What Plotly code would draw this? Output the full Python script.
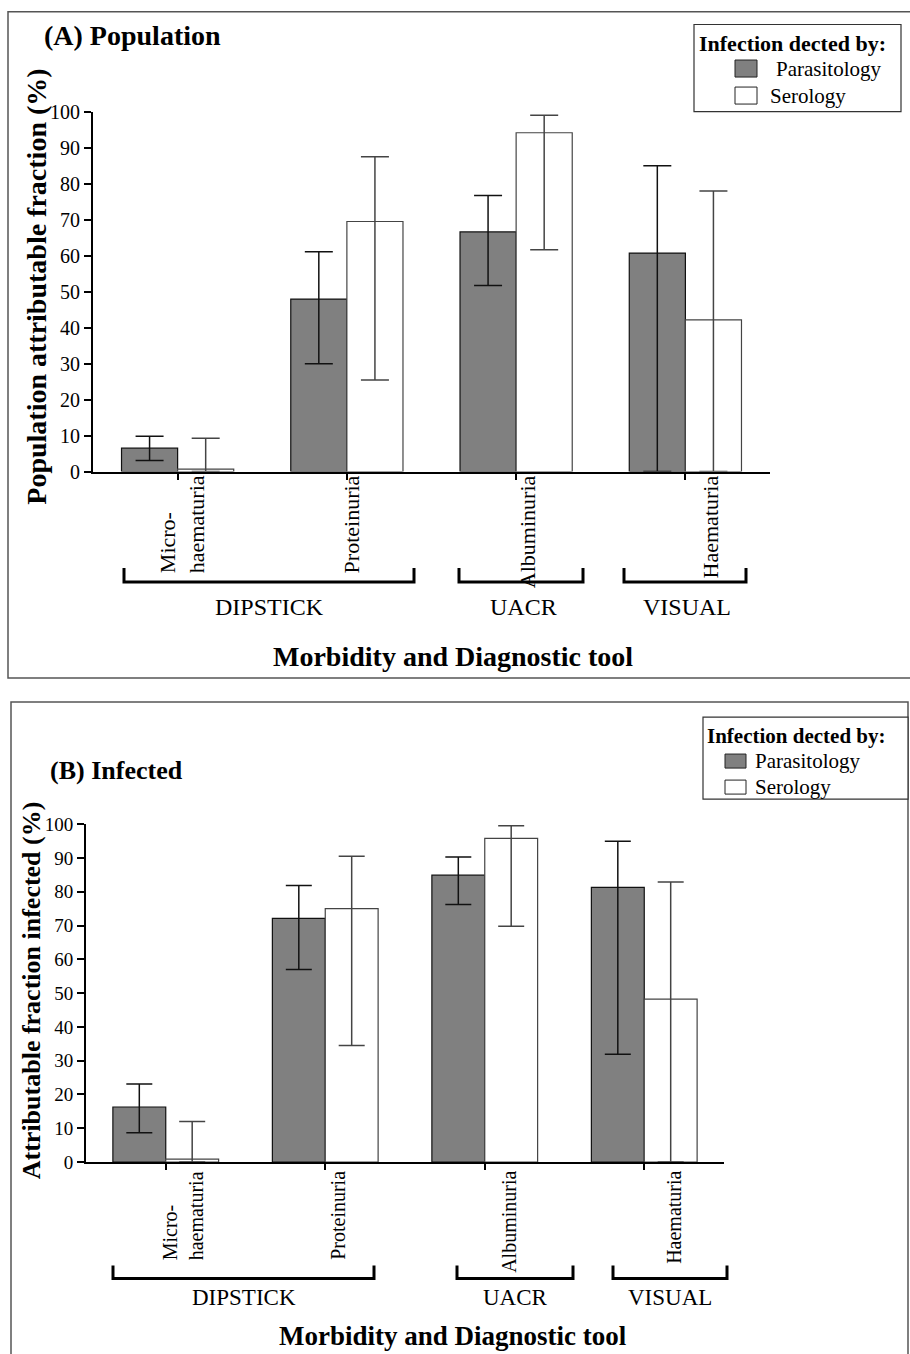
import plotly.graph_objects as go

# ---------------- data ----------------
categories = ["Micro-<br>haematuria", "Proteinuria", "Albuminuria", "Haematuria"]
series_names = ["Parasitology", "Serology"]
group_names = ["DIPSTICK", "UACR", "VISUAL"]
y_tick_values = [0, 10, 20, 30, 40, 50, 60, 70, 80, 90, 100]

# (A) Population attributable fraction (%)
popA_para = [6.5, 48.0, 66.7, 60.8]
popA_para_lo = [3.1, 30.0, 51.8, 0.0]
popA_para_hi = [9.8, 61.2, 76.8, 85.1]
popA_sero = [0.7, 69.6, 94.3, 42.2]
popA_sero_lo = [0.0, 25.5, 61.7, 0.0]
popA_sero_hi = [9.3, 87.6, 99.2, 78.1]

# (B) Attributable fraction infected (%)
infB_para = [16.3, 72.1, 84.9, 81.3]
infB_para_lo = [8.7, 57.0, 76.2, 31.9]
infB_para_hi = [23.1, 81.8, 90.3, 94.9]
infB_sero = [0.9, 75.0, 95.8, 48.2]
infB_sero_lo = [0.0, 34.5, 69.8, 0.0]
infB_sero_hi = [12.0, 90.5, 99.5, 82.9]

# ---------------- layout helpers ----------------
W, H = 910, 1354
FONT = "Liberation Serif, Times New Roman, serif"
VS = 0.983  # vertical calibration of the rendered page


def X(px):
    return px / W


def Y(py):
    p = 677 + (py - 677) / VS
    return min(max(1 - p / H, -0.05), 0.9995)


PARA_FILL = "#808080"
SERO_FILL = "#ffffff"


def bar_trace(vals, lo, hi, name, fill, line_col, err_col, xa, ya, capw):
    return go.Bar(
        x=categories, y=vals, name=name,
        marker=dict(color=fill, line=dict(color=line_col, width=1.2)),
        error_y=dict(type="data", symmetric=False,
                     array=[h - v for h, v in zip(hi, vals)],
                     arrayminus=[v - l for v, l in zip(vals, lo)],
                     color=err_col, thickness=1.5, width=capw),
        xaxis=xa, yaxis=ya, showlegend=False,
    )


fig = go.Figure()
fig.add_trace(bar_trace(popA_para, popA_para_lo, popA_para_hi, series_names[0],
                        PARA_FILL, "#111111", "#111111", "x", "y", 14))
fig.add_trace(bar_trace(popA_sero, popA_sero_lo, popA_sero_hi, series_names[1],
                        SERO_FILL, "#444444", "#444444", "x", "y", 14))
fig.add_trace(bar_trace(infB_para, infB_para_lo, infB_para_hi, series_names[0],
                        PARA_FILL, "#111111", "#111111", "x2", "y2", 13))
fig.add_trace(bar_trace(infB_sero, infB_sero_lo, infB_sero_hi, series_names[1],
                        SERO_FILL, "#444444", "#444444", "x2", "y2", 13))

axis_common = dict(showline=True, linecolor="black", linewidth=2,
                   ticks="outside", tickcolor="black", tickwidth=1.5,
                   showgrid=False, zeroline=False)

fig.update_layout(
    width=W, height=H, margin=dict(l=0, r=0, t=0, b=0),
    paper_bgcolor="white", plot_bgcolor="white",
    barmode="group", bargap=0.337, bargroupgap=0,
    font=dict(family=FONT, color="black"),
    xaxis=dict(domain=[X(93), X(770)], anchor="y", showticklabels=False,
               ticklen=6, range=[-0.5, 3.5], **axis_common),
    yaxis=dict(domain=[Y(471.7), Y(112.7)], anchor="x", range=[0, 100],
               tickvals=y_tick_values, ticklen=7,
               tickfont=dict(family=FONT, size=20, color="black"), **axis_common),
    xaxis2=dict(domain=[X(86), X(724)], anchor="y2", showticklabels=False,
                ticklen=6, range=[-0.5, 3.5], **axis_common),
    yaxis2=dict(domain=[Y(1161.7), Y(824)], anchor="x2", range=[0, 100],
                tickvals=y_tick_values, ticklen=7,
                tickfont=dict(family=FONT, size=19, color="black"), **axis_common),
)

shapes = []
annotations = []

# panel frames
shapes.append(dict(type="rect", xref="paper", yref="paper",
                   x0=X(8), x1=X(915), y0=Y(678), y1=Y(4),
                   line=dict(color="#555555", width=1.5), layer="below"))
shapes.append(dict(type="rect", xref="paper", yref="paper",
                   x0=X(11), x1=X(908), y0=Y(1420), y1=Y(702),
                   line=dict(color="#555555", width=1.5), layer="below"))

# panel titles
annotations.append(dict(text="<b>(A) Population</b>", xref="paper", yref="paper",
                        x=X(42), y=Y(36), xanchor="left", yanchor="middle",
                        showarrow=False, font=dict(family=FONT, size=28)))
annotations.append(dict(text="<b>(B) Infected</b>", xref="paper", yref="paper",
                        x=X(48), y=Y(770), xanchor="left", yanchor="middle",
                        showarrow=False, font=dict(family=FONT, size=26)))

# y-axis titles
annotations.append(dict(text="<b>Population attributable fraction (%)</b>",
                        xref="paper", yref="paper", x=X(37), y=Y(287),
                        xanchor="center", yanchor="middle", textangle=-90,
                        showarrow=False, font=dict(family=FONT, size=28)))
annotations.append(dict(text="<b>Attributable fraction infected (%)</b>",
                        xref="paper", yref="paper", x=X(31), y=Y(990),
                        xanchor="center", yanchor="middle", textangle=-90,
                        showarrow=False, font=dict(family=FONT, size=26)))

# category labels (rotated)
shiftA = [4, 5, 11, 25]
shiftB = [17, 12, 24, 29]
for i, c in enumerate(categories):
    annotations.append(dict(text=c, xref="x", yref="y", x=c, y=0,
                            xanchor="center", yanchor="top", textangle=-90,
                            xshift=shiftA[i], yshift=-2, align="left",
                            showarrow=False, font=dict(family=FONT, size=22)))
    annotations.append(dict(text=c, xref="x2", yref="y2", x=c, y=0,
                            xanchor="center", yanchor="top", textangle=-90,
                            xshift=shiftB[i], yshift=-7, align="left",
                            showarrow=False, font=dict(family=FONT, size=20)))

# group brackets + labels
brA = [(124, 414), (459, 583), (624, 746)]
brB = [(113, 374), (457, 573), (613, 727)]
for (x0, x1), g in zip(brA, group_names):
    yt, yb = 568, 582
    shapes.append(dict(type="path", xref="paper", yref="paper",
                       path=f"M {X(x0)},{Y(yt)} L {X(x0)},{Y(yb)} L {X(x1)},{Y(yb)} L {X(x1)},{Y(yt)}",
                       line=dict(color="black", width=3)))
    annotations.append(dict(text=g, xref="paper", yref="paper",
                            x=X((x0 + x1) / 2 + (2 if g != "DIPSTICK" else 0)), y=Y(607),
                            xanchor="center", yanchor="middle", showarrow=False,
                            font=dict(family=FONT, size=24)))
for (x0, x1), g in zip(brB, group_names):
    yt, yb = 1265, 1278
    shapes.append(dict(type="path", xref="paper", yref="paper",
                       path=f"M {X(x0)},{Y(yt)} L {X(x0)},{Y(yb)} L {X(x1)},{Y(yb)} L {X(x1)},{Y(yt)}",
                       line=dict(color="black", width=3)))
    annotations.append(dict(text=g, xref="paper", yref="paper",
                            x=X((x0 + x1) / 2), y=Y(1297),
                            xanchor="center", yanchor="middle", showarrow=False,
                            font=dict(family=FONT, size=23)))

# x-axis titles
annotations.append(dict(text="<b>Morbidity and Diagnostic tool</b>", xref="paper", yref="paper",
                        x=X(453), y=Y(657), xanchor="center", yanchor="middle",
                        showarrow=False, font=dict(family=FONT, size=28)))
annotations.append(dict(text="<b>Morbidity and Diagnostic tool</b>", xref="paper", yref="paper",
                        x=X(453), y=Y(1335), xanchor="center", yanchor="middle",
                        showarrow=False, font=dict(family=FONT, size=27)))


# custom legends
def legend(box, title_y, title_x, title_size, items, sw_x, sw_w, sw_h, txt_size):
    bx0, by0, bx1, by1 = box
    shapes.append(dict(type="rect", xref="paper", yref="paper",
                       x0=X(bx0), x1=X(bx1), y0=Y(by1), y1=Y(by0),
                       line=dict(color="#333333", width=1.2), fillcolor="white"))
    annotations.append(dict(text="<b>Infection dected by:</b>", xref="paper", yref="paper",
                            x=X(title_x), y=Y(title_y), xanchor="left", yanchor="middle",
                            showarrow=False, font=dict(family=FONT, size=title_size)))
    for (name, fill, yc, tx) in items:
        shapes.append(dict(type="rect", xref="paper", yref="paper",
                           x0=X(sw_x), x1=X(sw_x + sw_w), y0=Y(yc + sw_h / 2), y1=Y(yc - sw_h / 2),
                           line=dict(color="#222222", width=1), fillcolor=fill))
        annotations.append(dict(text=name, xref="paper", yref="paper",
                                x=X(tx), y=Y(yc), xanchor="left", yanchor="middle",
                                showarrow=False, font=dict(family=FONT, size=txt_size)))


legend((694, 25, 901, 112), 44, 697, 22,
       [(series_names[0], PARA_FILL, 69, 774), (series_names[1], SERO_FILL, 96, 768)],
       735, 22, 17, 21)
legend((703, 717, 908, 799), 736, 705, 21,
       [(series_names[0], PARA_FILL, 761, 753), (series_names[1], SERO_FILL, 787, 753)],
       725, 21, 14, 21)

fig.update_layout(shapes=shapes, annotations=annotations)
fig.write_html("out.html")
